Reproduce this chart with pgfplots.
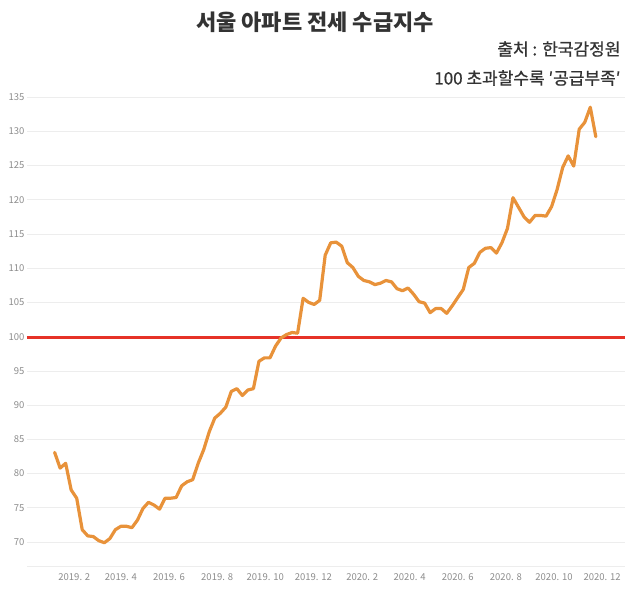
\documentclass[border=0pt]{standalone}
\usepackage{pgfplots}
\pgfplotsset{compat=1.18}
\usepackage{pgfplotstable}
\usepackage{fontspec}
\setmainfont{Noto Sans CJK KR}
\newfontfamily\subfont{Noto Sans CJK KR}[FakeBold=0.8, UprightFeatures={FakeBold=0.8}]
\definecolor{lineorange}{HTML}{E8923A}
\definecolor{refred}{HTML}{E63228}
\definecolor{tickgray}{HTML}{8C8C8C}
\definecolor{gridgray}{HTML}{EDEDED}
\definecolor{titlegray}{HTML}{333333}

% weekly index, x = days since 2019-01-01
\pgfplotstableread{
day value
6 83.1
13 80.8
20 81.5
27 77.6
34 76.4
41 71.8
48 70.9
55 70.8
62 70.2
69 69.9
76 70.5
83 71.8
90 72.3
97 72.3
104 72.1
111 73.2
118 74.9
125 75.8
132 75.4
139 74.8
146 76.4
153 76.4
160 76.5
167 78.2
174 78.8
181 79.1
188 81.5
195 83.5
202 86.1
209 88.1
216 88.8
223 89.7
230 92.0
237 92.4
244 91.4
251 92.2
258 92.4
265 96.4
272 96.9
279 96.9
286 98.6
293 99.8
300 100.3
307 100.6
314 100.5
321 105.6
328 105.0
335 104.7
342 105.3
349 111.9
356 113.7
363 113.8
370 113.2
377 110.8
384 110.1
391 108.8
398 108.2
405 108.0
412 107.6
419 107.8
426 108.2
433 108.0
440 107.0
447 106.7
454 107.1
461 106.2
468 105.1
475 104.9
482 103.5
489 104.1
496 104.1
503 103.4
510 104.5
517 105.7
524 106.9
531 110.1
538 110.7
545 112.3
552 112.9
559 113.0
566 112.2
573 113.7
580 115.8
587 120.3
594 118.9
601 117.5
608 116.7
615 117.7
622 117.7
629 117.6
636 119.0
643 121.5
650 124.7
657 126.4
664 124.9
671 130.3
678 131.3
685 133.5
692 129.2
}\jeonse

\begin{document}
\begin{tikzpicture}
\useasboundingbox (0,0) rectangle (630pt,607pt);
\node[font=\fontsize{22}{24}\selectfont\bfseries, text=titlegray] at (315pt,585pt) {서울 아파트 전세 수급지수};
\node[font=\fontsize{17}{19}\selectfont\subfont, text=titlegray, anchor=east] at (624pt,558pt) {출처 : 한국감정원};
\node[font=\fontsize{17}{19}\selectfont\subfont, text=titlegray, anchor=east] at (624pt,529pt) {100 초과할수록 ′공급부족′};
\begin{axis}[
  at={(27pt,41pt)}, anchor=south west,
  scale only axis, width=598pt, height=469pt,
  xmin=-29, xmax=729, ymin=66.5, ymax=135,
  enlargelimits=false,
  axis x line*=bottom, axis y line*=left,
  x axis line style={gridgray},
  y axis line style={draw=none},
  major tick length=0pt,
  ytick={70,75,...,135},
  ymajorgrids, grid style={gridgray, line width=0.6pt},
  xtick={31,90,151,212,273,334,396,456,517,578,639,700},
  xticklabels={2019. 2, 2019. 4, 2019. 6, 2019. 8, 2019. 10, 2019. 12, 2020. 2, 2020. 4, 2020. 6, 2020. 8, 2020. 10, 2020. 12},
  /pgf/number format/assume math mode=true,
  ticklabel style={font=\fontsize{9.5}{10}\selectfont, text=tickgray},
  xticklabel style={yshift=-4pt},
  yticklabel style={xshift=1pt},
]
\addplot[refred, line width=2.6pt, forget plot] coordinates {(-29,99.9) (729,99.9)};
\addplot[lineorange, line width=3.2pt, line join=round, line cap=round] table[x=day, y=value] {\jeonse};
\end{axis}
\end{tikzpicture}
\end{document}
